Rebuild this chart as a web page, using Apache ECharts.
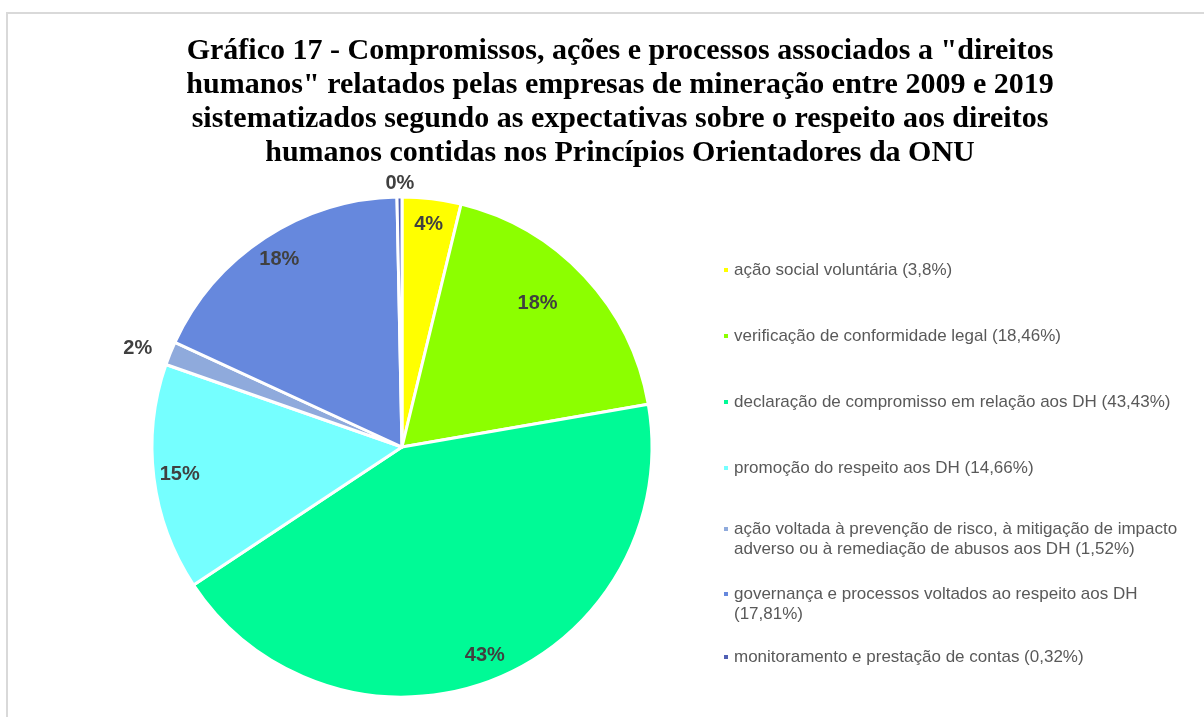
<!DOCTYPE html>
<html>
<head>
<meta charset="utf-8">
<script src="https://cdn.jsdelivr.net/npm/echarts@6/dist/echarts.min.js"></script>
<style>
  html, body { margin: 0; padding: 0; background: #fff; }
  #chart { width: 1204px; height: 717px; }
</style>
</head>
<body>
<div id="chart"></div>
<script>
const categories = [
  'ação social voluntária (3,8%)',
  'verificação de conformidade legal (18,46%)',
  'declaração de compromisso em relação aos DH (43,43%)',
  'promoção do respeito aos DH (14,66%)',
  'ação voltada à prevenção de risco, à mitigação de impacto\nadverso ou à remediação de abusos aos DH (1,52%)',
  'governança e processos voltados ao respeito aos DH\n(17,81%)',
  'monitoramento e prestação de contas (0,32%)'
]
const values = [3.8, 18.46, 43.43, 14.66, 1.52, 17.81, 0.32]
const colors = ['#ffff00', '#8cff00', '#00fa96', '#75ffff', '#8faadc', '#6688dd', '#5060b4']

// small label nudges (Excel "best fit" placement)
const labelNudge = { 1: [-28, 10], 6: [20, 0] }

const chart = echarts.init(document.getElementById('chart'))

const total = values.reduce((a, b) => a + b, 0)
const center = [402, 447]

const legendText = {
  color: '#595959',
  fontFamily: 'Liberation Sans, Arial',
  fontSize: 17,
  lineHeight: 20
}
const legendBase = {
  orient: 'vertical',
  left: 722,
  padding: 0,
  itemWidth: 6,
  itemHeight: 6,
  icon: 'rect',
  selectedMode: false,
  textStyle: legendText
}

chart.setOption({
  animation: false,
  color: colors,
  graphic: [{
    type: 'rect',
    shape: { x: 7, y: 13, width: 1300, height: 800 },
    style: { fill: 'none', stroke: '#d9d9d9', lineWidth: 2 },
    silent: true
  }],
  title: {
    text: 'Gráfico 17 - Compromissos, ações e processos associados a "direitos\nhumanos" relatados pelas empresas de mineração entre 2009 e 2019\nsistematizados segundo as expectativas sobre o respeito aos direitos\nhumanos contidas nos Princípios Orientadores da ONU',
    left: 620,
    top: 34,
    textAlign: 'center',
    padding: 0,
    textStyle: {
      color: '#000',
      fontFamily: 'Liberation Serif, Times New Roman',
      fontWeight: 'bold',
      fontSize: 30,
      lineHeight: 34
    }
  },
  legend: [
    Object.assign({}, legendBase, { top: 260, itemGap: 46, data: categories.slice(0, 4) }),
    Object.assign({}, legendBase, {
      top: 519,
      itemGap: 25,
      itemHeight: 26,
      // square sits on the first text line of two-line items
      icon: 'path://M0,0h6v6h-6zM0,26h6v0h-6z',
      data: categories.slice(4, 6)
    }),
    Object.assign({}, legendBase, { top: 647, itemGap: 25, data: categories.slice(6) })
  ],
  series: [
    {
      name: 'fatias',
      type: 'pie',
      center: center,
      radius: [0, 250],
      startAngle: 90,
      clockwise: true,
      avoidLabelOverlap: false,
      emphasis: { disabled: true },
      itemStyle: { borderColor: '#fff', borderWidth: 3 },
      label: { show: false },
      labelLine: { show: false },
      data: categories.map((c, i) => ({ name: c, value: values[i] }))
    },
    {
      name: 'rotulos',
      type: 'pie',
      center: center,
      radius: [192, 250],
      startAngle: 90,
      clockwise: true,
      silent: true,
      avoidLabelOverlap: false,
      emphasis: { disabled: true },
      itemStyle: { color: 'rgba(0,0,0,0)', borderWidth: 0 },
      labelLine: { show: false, length: 14, length2: 0 },
      label: {
        color: '#404040',
        fontFamily: 'Liberation Sans, Arial',
        fontWeight: 'bold',
        fontSize: 20,
        formatter: p => Math.round(p.value / total * 100) + '%'
      },
      data: categories.map((c, i) => ({
        name: c,
        value: values[i],
        label: {
          position: values[i] / total < 0.03 ? 'outside' : 'inside',
          offset: labelNudge[i] || [0, 0]
        }
      }))
    }
  ]
})
</script>
</body>
</html>
